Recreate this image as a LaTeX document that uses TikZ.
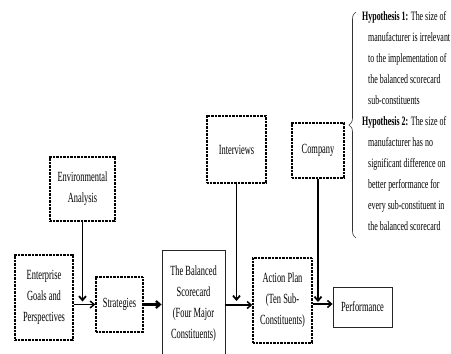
\documentclass[tikz,border=0pt]{standalone}
\usepackage{fontspec}
\setmainfont{Liberation Serif}[FakeStretch=0.6]
\newfontfamily\hypfont{Liberation Serif}[FakeStretch=0.62]
\usetikzlibrary{arrows.meta,calc,decorations.pathreplacing}

\begin{document}
\begin{tikzpicture}[x=1pt,y=-1pt,
  boxfont/.style={font=\fontsize{14}{21}\selectfont},
  dotbox/.style={draw, line width=1.5pt, dash pattern=on 0.9pt off 0.5pt,
    align=center, inner sep=0pt, boxfont},
  plainbox/.style={draw=black!85, line width=0.8pt, align=center,
    inner sep=0pt, boxfont},
  flow/.style={line width=1.8pt, -{Straight Barb[length=4pt,width=7pt]}},
  thinflow/.style={line width=1.5pt, -{Straight Barb[length=4pt,width=7pt]}},
  hyp/.style={align=left, inner sep=0pt,
    font=\hypfont\fontsize{12.8}{21}\selectfont},
]
\useasboundingbox (0,0) rectangle (451,354);

% boxes
\node[dotbox, minimum width=65pt, minimum height=64pt] (env) at (82.5,189)
  {Environmental\\Analysis};
\node[dotbox, minimum width=58pt, minimum height=85pt] (ent) at (44,297.5)
  {Enterprise\\Goals and\\Perspectives};
\node[dotbox, minimum width=47pt, minimum height=55pt] (strat) at (119.5,304.5)
  {Strategies};
\node[plainbox, minimum width=63pt, minimum height=108pt] (bsc) at (193.5,304)
  {The Balanced\\Scorecard\\(Four Major\\Constituents)};
\node[dotbox, minimum width=59pt, minimum height=67pt] (int) at (236.5,149.5)
  {Interviews};
\node[dotbox, minimum width=52pt, minimum height=55pt] (comp) at (318,150.5)
  {Company};
\node[dotbox, minimum width=59pt, minimum height=85pt] (act) at (282.5,300.5)
  {Action Plan\\(Ten Sub-\\Constituents)};
\node[plainbox, minimum width=59pt, minimum height=40pt] (perf) at (362.5,307)
  {Performance};

% entry points of the horizontal flows
\coordinate (actin) at ($(act.west)+(0,4.5)$);
\coordinate (perfin) at ($(perf.west)+(0,-3)$);

% horizontal flow
\draw[thinflow] (strat.west -| ent.east) -- (strat.west);
\draw[flow, line width=2.2pt] (strat.east) -- (strat.east -| bsc.west);
\draw[thinflow] (actin -| bsc.east) -- (actin);
\draw[thinflow] (perfin -| act.east) -- (perfin);

% vertical inputs
\draw[flow] (env.south) -- ($(env.south |- strat.west)+(0,-3)$);
\draw[flow] (int.south) -- ($(int.south |- actin)+(0,-4)$);
\draw[flow] (comp.south) -- ($(comp.south |- perfin)+(0,-2)$);

% hypotheses
\draw[black!80, line width=0.6pt, decorate,
  decoration={brace, amplitude=7pt}] (356,238) -- (356,12);
\node[hyp, anchor=north west] (hyps) at (362,11)
  {\textbf{Hypothesis 1:} The size of\\
   \hspace*{6pt}manufacturer is irrelevant\\
   \hspace*{6pt}to the implementation of\\
   \hspace*{6pt}the balanced scorecard\\
   \hspace*{6pt}sub-constituents\\
   \textbf{Hypothesis 2:} The size of\\
   \hspace*{6pt}manufacturer has no\\
   \hspace*{6pt}significant difference on\\
   \hspace*{6pt}better performance for\\
   \hspace*{6pt}every sub-constituent in\\
   \hspace*{6pt}the balanced scorecard};
\end{tikzpicture}
\end{document}
